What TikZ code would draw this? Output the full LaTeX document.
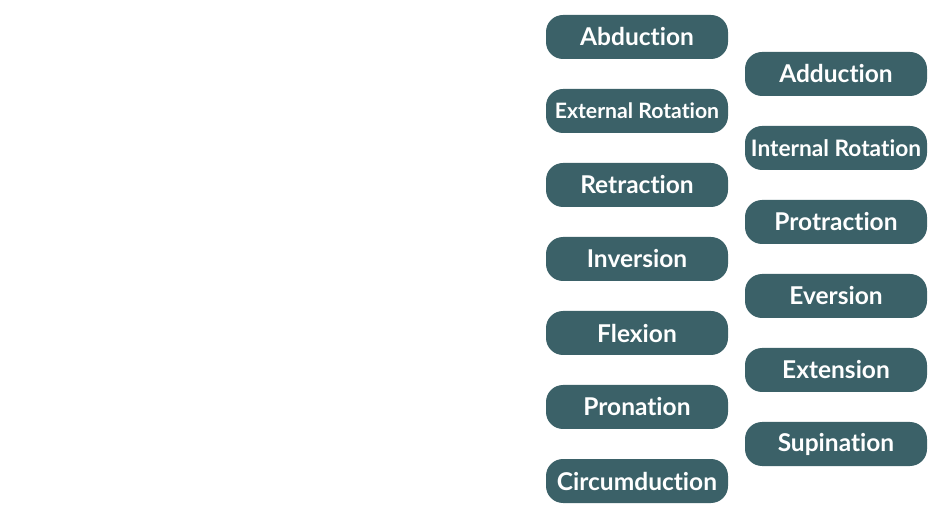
\documentclass[tikz,border=0pt]{standalone}
\usepackage{fontspec}
\setmainfont{Lato}[Ligatures=NoCommon]
\definecolor{teal}{HTML}{3B6168}

\begin{document}
\begin{tikzpicture}
  [x=1pt,y=-1pt,every node/.style={fill=teal,rounded corners=17pt,minimum width=182pt,minimum height=44pt,inner sep=0pt,text=white,font=\bfseries\fontsize{24.5}{28}\selectfont}]
  \useasboundingbox (0,0) rectangle (940,526);
  \node (abd) at (637,37)  {Abduction};
  \node (ext) at (637,111) [font=\bfseries\fontsize{21.2}{24}\selectfont] {External Rotation};
  \node (ret) at (637,185) {Retraction};
  \node (inv) at (637,259) {Inversion};
  \node (flx) at (637,333) {Flexion};
  \node (pro) at (637,407) {Pronation};
  \node (cir) at (637,481) {Circumduction};

  \node (add) at (836,74)  {Adduction};
  \node (int) at (836,148) [font=\bfseries\fontsize{22.7}{26}\selectfont] {Internal Rotation};
  \node (prt) at (836,222) {Protraction};
  \node (evr) at (836,296) {Eversion};
  \node (xtn) at (836,370) {Extension};
  \node (sup) at (836,444) {Supination};

\end{tikzpicture}
\end{document}
